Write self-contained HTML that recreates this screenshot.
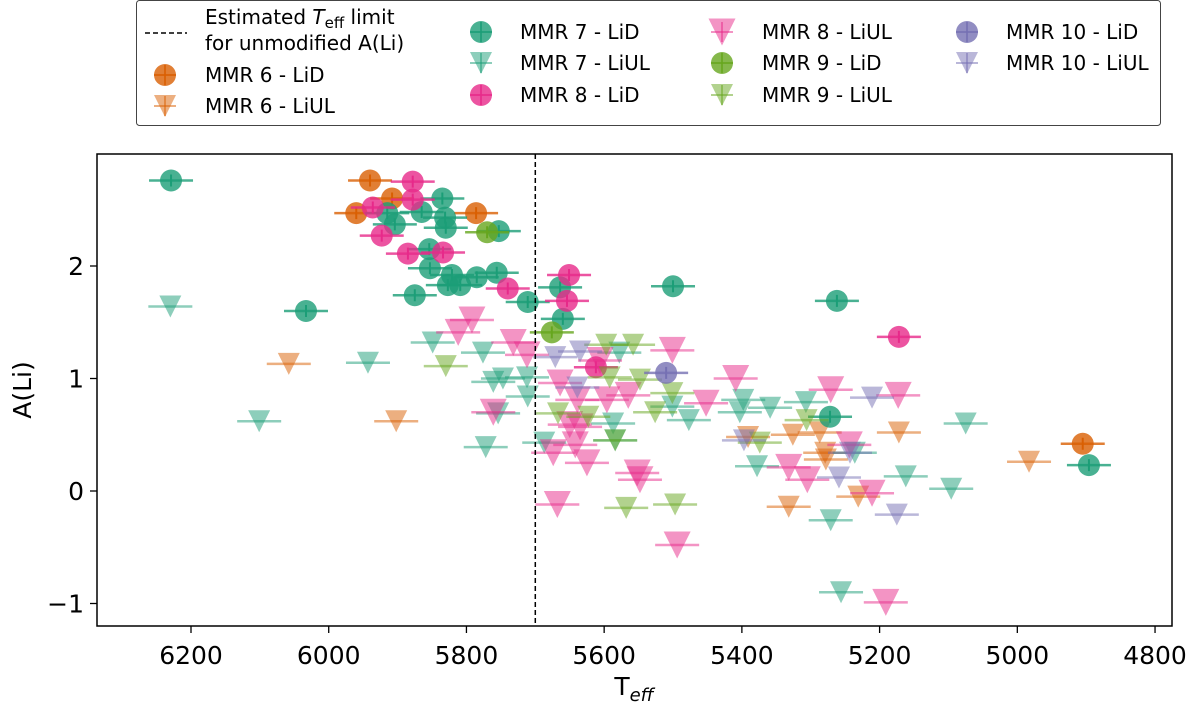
<!DOCTYPE html>
<html><head><meta charset="utf-8">
<style>
body{margin:0;background:#fff;}
svg text{font-family:"DejaVu Sans","Liberation Sans",sans-serif;fill:#000;}
</style></head>
<body>
<svg id="chart" width="1200" height="705" viewBox="0 0 1200 705" xmlns="http://www.w3.org/2000/svg">
<g id="plot"></g>
<rect x="97" y="154" width="1075" height="472" fill="none" stroke="#000" stroke-width="1.5"/>
<g id="axes"></g>
<text x="634" y="695" font-size="25" text-anchor="middle">T<tspan font-size="18" font-style="italic" dy="6">eff</tspan></text>
<text x="0" y="0" font-size="25" text-anchor="middle" transform="translate(31,390) rotate(-90)">A(Li)</text>
<g id="legend">
<rect x="136.5" y="0.5" width="1024" height="125" rx="3" fill="#fff" stroke="#444" stroke-width="1"/>
<line x1="145" y1="33" x2="187" y2="33" stroke="#000" stroke-width="1.5" stroke-dasharray="5,3"/>
<text x="205" y="24" font-size="20">Estimated <tspan font-style="italic">T</tspan><tspan font-size="15" dy="4">eff</tspan><tspan dy="-4"> limit</tspan></text>
<text x="205" y="50" font-size="20">for unmodified A(Li)</text>
</g>
</svg>
<script>
// Data arrays (Teff [K], A(Li))
const mmr6LiD_T=[5940,5908,5960,5786,4905];
const mmr6LiD_A=[2.76,2.60,2.47,2.47,0.42];
const mmr6LiUL_T=[6058,5902,5391,5326,5287,5172,5278,5279,5332,5231,4983];
const mmr6LiUL_A=[1.13,0.62,0.48,0.50,0.52,0.52,0.28,0.34,-0.14,-0.05,0.26];
const mmr7LiD_T=[6229,5835,5915,5904,5865,5831,5830,5753,5854,5853,5821,5827,5809,5785,5756,5875,5711,6033,5664,5660,5500,5262,5272,4896];
const mmr7LiD_A=[2.76,2.60,2.47,2.37,2.48,2.43,2.34,2.31,2.15,1.98,1.92,1.83,1.83,1.90,1.94,1.74,1.68,1.60,1.81,1.53,1.82,1.69,0.66,0.23];
const mmr7LiUL_T=[6230,5943,6101,5849,5776,5761,5747,5712,5711,5754,5772,5687,5578,5477,5587,5501,5398,5403,5359,5307,5075,5378,5162,5096,5271,5256,5236,5584];
const mmr7LiUL_A=[1.64,1.14,0.62,1.32,1.23,0.97,1.00,1.01,0.84,0.69,0.39,0.43,1.23,0.63,0.60,0.75,0.81,0.70,0.74,0.79,0.60,0.22,0.13,0.02,-0.26,-0.90,0.34,0.45];
const mmr8LiD_T=[5878,5878,5936,5923,5885,5834,5740,5651,5654,5612,5172];
const mmr8LiD_A=[2.75,2.59,2.52,2.27,2.11,2.12,1.80,1.92,1.69,1.10,1.37];
const mmr8LiUL_T=[5792,5812,5732,5712,5761,5501,5409,5452,5674,5642,5625,5650,5635,5552,5548,5668,5494,5565,5596,5664,5639,5606,5271,5173,5244,5332,5305,5211,5191];
const mmr8LiUL_A=[1.52,1.41,1.32,1.21,0.70,1.25,1.00,0.78,0.34,0.41,0.25,0.59,0.57,0.16,0.10,-0.12,-0.48,0.85,0.81,0.96,0.81,1.16,0.90,0.85,0.41,0.21,0.10,-0.02,-0.99];
const mmr9LiD_T=[5770,5676];
const mmr9LiD_A=[2.30,1.41];
const mmr9LiUL_T=[5830,5597,5558,5592,5548,5501,5526,5584,5623,5667,5568,5497,5374,5306];
const mmr9LiUL_A=[1.11,1.30,1.30,1.01,0.99,0.87,0.70,0.45,0.66,0.69,-0.15,-0.12,0.43,0.63];
const mmr10LiD_T=[5510];
const mmr10LiD_A=[1.05];
const mmr10LiUL_T=[5635,5671,5639,5211,5397,5259,5175,5243];
const mmr10LiUL_A=[1.24,1.19,0.92,0.83,0.45,0.12,-0.21,0.34];
const xTicks=[6200,6000,5800,5600,5400,5200,5000,4800];
const yTicks=[-1,0,1,2];
const teffLimit=5700;

const NS='http://www.w3.org/2000/svg';
function xS(t){return 191+(6200-t)*0.6886;}
function yS(a){return 491-a*112.5;}
function mk(tag,attrs,parent){const e=document.createElementNS(NS,tag);for(const k in attrs)e.setAttribute(k,attrs[k]);parent.appendChild(e);return e;}
const plot=document.getElementById('plot');
const axes=document.getElementById('axes');
const legend=document.getElementById('legend');

const series=[
 {n:'mmr6-lid',T:mmr6LiD_T,A:mmr6LiD_A,c:'#d95f02',tri:false,s:11},
 {n:'mmr6-liul',T:mmr6LiUL_T,A:mmr6LiUL_A,c:'#d95f02',tri:true,s:11},
 {n:'mmr7-lid',T:mmr7LiD_T,A:mmr7LiD_A,c:'#1b9e77',tri:false,s:11},
 {n:'mmr7-liul',T:mmr7LiUL_T,A:mmr7LiUL_A,c:'#1b9e77',tri:true,s:11},
 {n:'mmr8-lid',T:mmr8LiD_T,A:mmr8LiD_A,c:'#e7298a',tri:false,s:11},
 {n:'mmr8-liul',T:mmr8LiUL_T,A:mmr8LiUL_A,c:'#e7298a',tri:true,s:13.5},
 {n:'mmr9-lid',T:mmr9LiD_T,A:mmr9LiD_A,c:'#66a61e',tri:false,s:11},
 {n:'mmr9-liul',T:mmr9LiUL_T,A:mmr9LiUL_A,c:'#66a61e',tri:true,s:11},
 {n:'mmr10-lid',T:mmr10LiD_T,A:mmr10LiD_A,c:'#7570b3',tri:false,s:11},
 {n:'mmr10-liul',T:mmr10LiUL_T,A:mmr10LiUL_A,c:'#7570b3',tri:true,s:11}
];
function marker(g,cx,cy,sr,name){
  const op=sr.tri?0.5:0.8;
  const r=sr.s;
  const bar=mk('line',{x1:cx-22,y1:cy,x2:cx+22,y2:cy,stroke:sr.c,'stroke-width':2.5,'stroke-opacity':op},g);
  
  
  let m;
  if(sr.tri){
    m=mk('polygon',{points:(cx-r)+','+(cy-r)+' '+(cx+r)+','+(cy-r)+' '+cx+','+(cy+r),fill:sr.c,'fill-opacity':op},g);
  }else{
    m=mk('circle',{cx:cx,cy:cy,r:r,fill:sr.c,'fill-opacity':op},g);
    const v=mk('line',{x1:cx,y1:cy-6,x2:cx,y2:cy+6,stroke:sr.c,'stroke-width':2},g);
    
    
  }
  
  
}
series.forEach(sr=>{
  const g=mk('g',{},plot);
  
  
  for(let i=0;i<sr.T.length;i++){marker(g,xS(sr.T[i]),yS(sr.A[i]),sr,sr.n+'-point');}
});
const lim=mk('line',{x1:xS(teffLimit),y1:154,x2:xS(teffLimit),y2:626,stroke:'#000','stroke-width':1.5,'stroke-dasharray':'5,3'},plot);


xTicks.forEach(t=>{
  const x=xS(t);
  const l=mk('line',{x1:x,y1:626,x2:x,y2:633,stroke:'#000','stroke-width':1.3},axes);
  
  
  const tx=mk('text',{x:x,y:664,'font-size':25,'text-anchor':'middle'},axes);
  tx.textContent=t;
  
  
});
yTicks.forEach(a=>{
  const y=yS(a);
  const l=mk('line',{x1:90,y1:y,x2:97,y2:y,stroke:'#000','stroke-width':1.3},axes);
  
  
  const tx=mk('text',{x:84,y:y+9,'font-size':25,'text-anchor':'end'},axes);
  tx.textContent=a<0?'\u2212'+Math.abs(a):String(a);
  
  
});
const legItems=[
 [0,165,205,75,'MMR 6 - LiD'],[1,165,205,106,'MMR 6 - LiUL'],
 [2,481,520,32,'MMR 7 - LiD'],[3,481,520,63,'MMR 7 - LiUL'],[4,481,520,95,'MMR 8 - LiD'],
 [5,722,762,32,'MMR 8 - LiUL'],[6,722,762,63,'MMR 9 - LiD'],[7,722,762,95,'MMR 9 - LiUL'],
 [8,967,1006,32,'MMR 10 - LiD'],[9,967,1006,63,'MMR 10 - LiUL']
];
legItems.forEach(it=>{
  const sr=series[it[0]];
  const g=mk('g',{},legend);
  
  
  const op=sr.tri?0.5:0.8;
  const cx=it[1],cy=it[3];
  if(sr.tri){const r=sr.s;mk('polygon',{points:(cx-r)+','+(cy-r)+' '+(cx+r)+','+(cy-r)+' '+cx+','+(cy+r),fill:sr.c,'fill-opacity':op},g);}
  else mk('circle',{cx:cx,cy:cy,r:11,fill:sr.c,'fill-opacity':op},g);
  mk('line',{x1:cx-11,y1:cy,x2:cx+11,y2:cy,stroke:sr.c,'stroke-width':2,'stroke-opacity':op},g);
  mk('line',{x1:cx,y1:cy-10,x2:cx,y2:cy+10,stroke:sr.c,'stroke-width':2,'stroke-opacity':op},g);
  const t=mk('text',{x:it[2],y:cy+7,'font-size':20},g);
  t.textContent=it[4];
  
  
});
</script>
</body></html>
